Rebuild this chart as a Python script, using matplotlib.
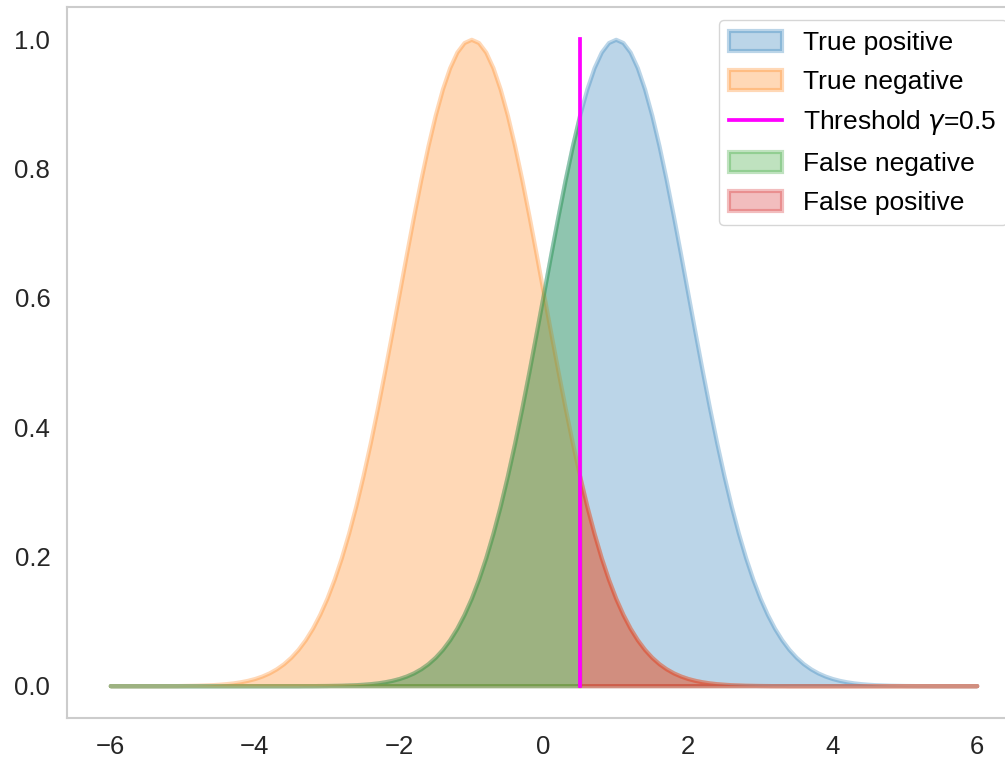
import numpy as np
import matplotlib
matplotlib.use("Agg")
import matplotlib.pyplot as plt

# ---- data ----
x_min, x_max, n_samples = -6.0, 6.0, 121   # sample grid, step 0.1
threshold = 0.5
threshold_top = 1.0

true_positive = [
    0.0000, 0.0000, 0.0000, 0.0000, 0.0000, 0.0000, 0.0000, 0.0000, 0.0000, 0.0000,  # -6.0 .. -5.1
    0.0000, 0.0000, 0.0000, 0.0000, 0.0000, 0.0000, 0.0000, 0.0000, 0.0000, 0.0000,  # -5.0 .. -4.1
    0.0000, 0.0000, 0.0000, 0.0000, 0.0000, 0.0000, 0.0000, 0.0001, 0.0001, 0.0002,  # -4.0 .. -3.1
    0.0003, 0.0005, 0.0007, 0.0011, 0.0015, 0.0022, 0.0031, 0.0043, 0.0060, 0.0082,  # -3.0 .. -2.1
    0.0111, 0.0149, 0.0198, 0.0261, 0.0340, 0.0439, 0.0561, 0.0710, 0.0889, 0.1103,  # -2.0 .. -1.1
    0.1353, 0.1645, 0.1979, 0.2358, 0.2780, 0.3247, 0.3753, 0.4296, 0.4868, 0.5461,  # -1.0 .. -0.1
    0.6065, 0.6670, 0.7261, 0.7827, 0.8353, 0.8825, 0.9231, 0.9560, 0.9802, 0.9950,  #  0.0 .. 0.9
    1.0000, 0.9950, 0.9802, 0.9560, 0.9231, 0.8825, 0.8353, 0.7827, 0.7261, 0.6670,  #  1.0 .. 1.9
    0.6065, 0.5461, 0.4868, 0.4296, 0.3753, 0.3247, 0.2780, 0.2358, 0.1979, 0.1645,  #  2.0 .. 2.9
    0.1353, 0.1103, 0.0889, 0.0710, 0.0561, 0.0439, 0.0340, 0.0261, 0.0198, 0.0149,  #  3.0 .. 3.9
    0.0111, 0.0082, 0.0060, 0.0043, 0.0031, 0.0022, 0.0015, 0.0011, 0.0007, 0.0005,  #  4.0 .. 4.9
    0.0003, 0.0002, 0.0001, 0.0001, 0.0000, 0.0000, 0.0000, 0.0000, 0.0000, 0.0000,  #  5.0 .. 5.9
    0.0000,                                                                          #  6.0
]

true_negative = [
    0.0000, 0.0000, 0.0000, 0.0000, 0.0000, 0.0000, 0.0000, 0.0000, 0.0001, 0.0001,  # -6.0 .. -5.1
    0.0003, 0.0005, 0.0007, 0.0011, 0.0015, 0.0022, 0.0031, 0.0043, 0.0060, 0.0082,  # -5.0 .. -4.1
    0.0111, 0.0149, 0.0198, 0.0261, 0.0340, 0.0439, 0.0561, 0.0710, 0.0889, 0.1103,  # -4.0 .. -3.1
    0.1353, 0.1645, 0.1979, 0.2358, 0.2780, 0.3247, 0.3753, 0.4296, 0.4868, 0.5461,  # -3.0 .. -2.1
    0.6065, 0.6670, 0.7261, 0.7827, 0.8353, 0.8825, 0.9231, 0.9560, 0.9802, 0.9950,  # -2.0 .. -1.1
    1.0000, 0.9950, 0.9802, 0.9560, 0.9231, 0.8825, 0.8353, 0.7827, 0.7261, 0.6670,  # -1.0 .. -0.1
    0.6065, 0.5461, 0.4868, 0.4296, 0.3753, 0.3247, 0.2780, 0.2358, 0.1979, 0.1645,  #  0.0 .. 0.9
    0.1353, 0.1103, 0.0889, 0.0710, 0.0561, 0.0439, 0.0340, 0.0261, 0.0198, 0.0149,  #  1.0 .. 1.9
    0.0111, 0.0082, 0.0060, 0.0043, 0.0031, 0.0022, 0.0015, 0.0011, 0.0007, 0.0005,  #  2.0 .. 2.9
    0.0003, 0.0002, 0.0001, 0.0001, 0.0000, 0.0000, 0.0000, 0.0000, 0.0000, 0.0000,  #  3.0 .. 3.9
    0.0000, 0.0000, 0.0000, 0.0000, 0.0000, 0.0000, 0.0000, 0.0000, 0.0000, 0.0000,  #  4.0 .. 4.9
    0.0000, 0.0000, 0.0000, 0.0000, 0.0000, 0.0000, 0.0000, 0.0000, 0.0000, 0.0000,  #  5.0 .. 5.9
    0.0000,                                                                          #  6.0
]

labels = ["True positive", "True negative", r"Threshold $\gamma$=0.5",
          "False negative", "False positive"]
x_ticks = [-6, -4, -2, 0, 2, 4, 6]
y_ticks = [0.0, 0.2, 0.4, 0.6, 0.8, 1.0]

# ---- drawing ----
plt.rcParams['font.family'] = ['Liberation Sans', 'DejaVu Sans']
plt.rcParams['axes.unicode_minus'] = True

fig = plt.figure(figsize=(10.05, 7.61), dpi=100)
ax = fig.add_axes([67 / 1005, 43 / 761, (1020 - 67) / 1005, 711 / 761])

x = np.linspace(x_min, x_max, n_samples)
tp = np.array(true_positive)
tn = np.array(true_negative)
at_or_below = x <= threshold + 1e-9
at_or_above = x >= threshold - 1e-9

h_tp = ax.fill_between(x, tp, color='C0', alpha=0.3, lw=3)
h_tn = ax.fill_between(x, tn, color='C1', alpha=0.3, lw=3)
h_th, = ax.plot([threshold, threshold], [0, threshold_top], color='magenta',
                lw=2.7, zorder=5)
h_fn = ax.fill_between(x, tp, where=at_or_below, color='C2', alpha=0.3, lw=3)
h_fp = ax.fill_between(x, tn, where=at_or_above, color='C3', alpha=0.3, lw=3)

ax.set_xticks(x_ticks)
ax.set_yticks(y_ticks)
ax.set_yticklabels([f"{v:.1f}" for v in y_ticks])
ax.tick_params(length=0, labelsize=18.5, colors='#262626', pad=12)
for s in ax.spines.values():
    s.set_color('#cccccc')
    s.set_linewidth(1.5)
ax.grid(False)

leg = ax.legend([h_tp, h_tn, h_th, h_fn, h_fp], labels, loc='upper right',
                fontsize=19, handlelength=2.0, handleheight=0.8,
                labelspacing=0.55, edgecolor='#cccccc', framealpha=0.8)

fig.savefig("out.png", dpi=100)
